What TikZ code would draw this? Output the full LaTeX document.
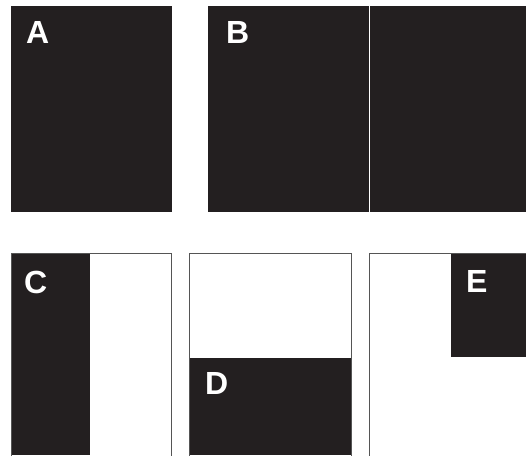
\documentclass[tikz,border=0pt]{standalone}
\usepackage{fontspec}
\setmainfont{Liberation Sans}
\definecolor{panelfill}{HTML}{231F20}
\definecolor{edgegray}{HTML}{555555}
\tikzset{
  dark/.style={fill=panelfill, draw=none},
  frame/.style={draw=edgegray, line width=0.9pt},
  lab/.style={anchor=base west, inner sep=0pt, text=white, font=\fontsize{32}{32}\selectfont\bfseries}
}
\begin{document}
\begin{tikzpicture}[x=1pt, y=-1pt]
\useasboundingbox (0,0) rectangle (526,455);
\clip (0,0) rectangle (526,455);
% A
\fill[dark] (11,6) rectangle (172,212);
\node[lab] (la) at (26,43) {A};
% B
\fill[dark] (208,6) rectangle (526,212);
\draw[white, line width=1pt] (369.3,6) -- (369.3,212);
\node[lab] (lb) at (226,43) {B};
% C
\fill[dark] (11,253) rectangle (90,455);
\draw[frame] (11,253.5) rectangle (171.5,460);
\node[lab] (lc) at (24,293) {C};
% D
\fill[dark] (189.5,357.5) rectangle (351,455);
\draw[frame] (189.5,253.5) rectangle (351,460);
\node[lab] (ld) at (205,394) {D};
% E
\fill[dark] (451,253) rectangle (526,356.5);
\draw[frame] (369.5,253.5) rectangle (530,460);
\node[lab] (le) at (466,292) {E};
\end{tikzpicture}
\end{document}
